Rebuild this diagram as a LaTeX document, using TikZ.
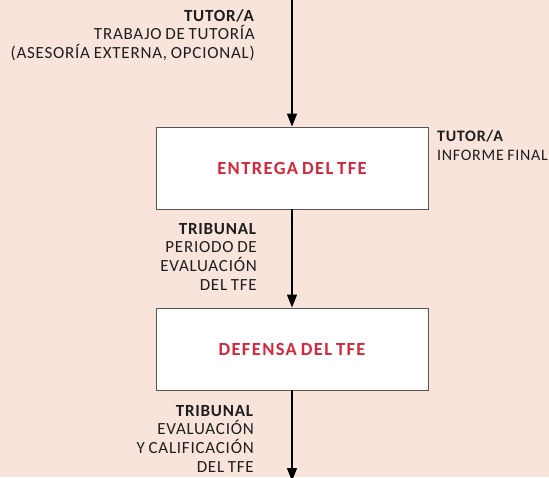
\documentclass[tikz,border=0pt]{standalone}
\usepackage{fontspec}
\setmainfont{Carlito}[LetterSpace=4.5,WordSpace=0.8]
\newfontfamily\redfont{Carlito}[LetterSpace=7.5,WordSpace=0.7]
\usetikzlibrary{arrows.meta}
\definecolor{bg}{HTML}{F8E4DB}
\definecolor{tfered}{HTML}{D5283A}
\definecolor{boxline}{HTML}{555555}
\definecolor{txt}{HTML}{1E1E1E}
\tikzset{
  stepbox/.style={draw=boxline, line width=0.9pt, fill=white, minimum width=272pt, minimum height=82pt,
    inner sep=0pt, text=tfered, font=\redfont\fontsize{18.5}{20}\selectfont\bfseries},
  flow/.style={line width=1.4pt, -{Triangle[width=10pt,length=13pt]}},
  lbl/.style={align=right, anchor=north east, inner sep=0pt, text=txt, font=\fontsize{17}{18.7}\selectfont},
  lbll/.style={align=left, anchor=north west, inner sep=0pt, text=txt, font=\fontsize{16}{18.7}\selectfont}
}
\begin{document}
\begin{tikzpicture}[x=1pt,y=-1pt]
\clip (0,0) rectangle (549,477);
\fill[bg] (0,0) rectangle (549,477);
\node[stepbox] (entrega) at (292,168) {ENTREGA DEL TFE};
\node[stepbox] (defensa) at (292,349) {DEFENSA DEL TFE};
\coordinate (top) at (292,-2);
\coordinate (bottom) at (292,481);
\draw[flow] (top) -- (entrega.north);
\draw[flow] (entrega.south) -- (defensa.north);
\draw[flow] (defensa.south) -- (bottom);
\node[lbl] (l1) at (255,9) {\textbf{TUTOR/A}\\TRABAJO DE TUTORÍA\\(ASESORÍA EXTERNA, OPCIONAL)};
\node[lbll] (l2) at (437,130.5) {\textbf{TUTOR/A}\\INFORME FINAL};
\node[lbl] (l3) at (257,223) {\textbf{TRIBUNAL}\\PERIODO DE\\EVALUACIÓN\\DEL TFE};
\node[lbl] (l4) at (254,405) {\textbf{TRIBUNAL}\\EVALUACIÓN\\Y CALIFICACIÓN\\DEL TFE};
\end{tikzpicture}
\end{document}
